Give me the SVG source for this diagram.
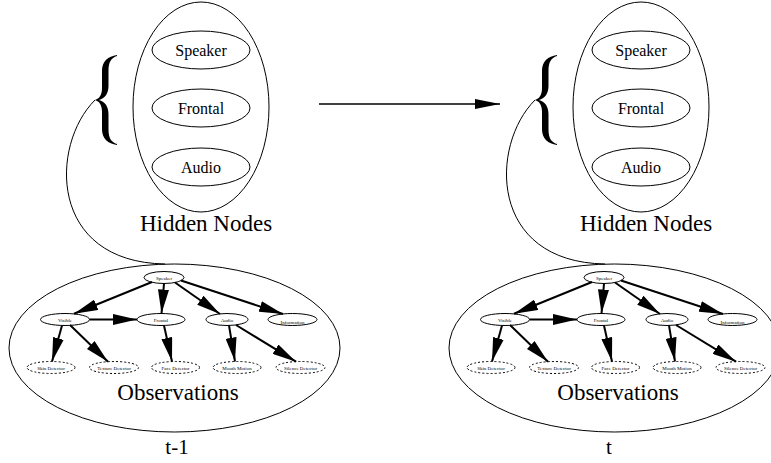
<svg xmlns="http://www.w3.org/2000/svg" width="771" height="463" viewBox="0 0 771 463">
<style>
.bg{fill:#fff}
.big{fill:none;stroke:#000;stroke-width:1}
.hn{fill:#fff;stroke:#000;stroke-width:1}
.on{fill:#fff;stroke:#000;stroke-width:1}
.od{fill:#fff;stroke:#000;stroke-width:1;stroke-dasharray:2,2}
.e{fill:none;stroke:#000;stroke-width:2;marker-end:url(#ah)}
.lk{fill:none;stroke:#000;stroke-width:1}
text{font-family:'Liberation Serif','Times New Roman','DejaVu Serif',serif;text-anchor:middle;fill:#000}
.t16{font-size:16px}
.t23{font-size:23px}
.t21{font-size:21px}
.t5{font-size:5px}
.br{fill:#000;stroke:none}
</style>
<defs>
<marker id="ah" markerUnits="userSpaceOnUse" markerWidth="24" markerHeight="11" refX="24" refY="5.5" orient="auto">
<path d="M0,0 L24,5.5 L0,11 Z" fill="#000"/>
</marker>
<marker id="ah2" markerUnits="userSpaceOnUse" markerWidth="25" markerHeight="10" refX="25" refY="5" orient="auto">
<path d="M0,0 L25,5 L0,10 Z" fill="#000"/>
</marker>
</defs>
<rect class="bg" x="0" y="0" width="771" height="463"/>

<g id="slice-t-1" font-family="Liberation Serif, serif">
  <g id="hidden-t-1">
    <ellipse class="big" cx="201" cy="107" rx="68" ry="105"/>
    <g id="h-speaker-t-1"><ellipse class="hn" cx="201" cy="50" rx="49" ry="19"/><text class="t16" x="201" y="55.5">Speaker</text></g>
    <g id="h-frontal-t-1"><ellipse class="hn" cx="201" cy="108" rx="49" ry="19"/><text class="t16" x="201" y="113.5">Frontal</text></g>
    <g id="h-audio-t-1"><ellipse class="hn" cx="201" cy="167" rx="49" ry="19"/><text class="t16" x="201" y="172.5">Audio</text></g>
    <text class="t23" x="206" y="231">Hidden Nodes</text>
  </g>
  <path class="br" d="M117,55 C108,56.5 102,61 102,71 L102,88 C102,95 99.5,98.5 95,100 C99.5,101.5 102,105 102,112 L102,129 C102,139 108,143.5 117,145 L117,144 C111,142 108.5,138 108.5,129 L108.5,114 C108.5,106 104.5,101.5 99,100 C104.5,98.5 108.5,94 108.5,86 L108.5,71 C108.5,62 111,58 117,56 Z"/>
  <g id="observations-t-1">
    <ellipse class="big" cx="174.5" cy="348" rx="165.5" ry="84"/>
    <g id="o-speaker-t-1"><ellipse class="on" cx="164" cy="277.5" rx="20" ry="6"/><text class="t5" x="164" y="279.5">Speaker</text></g>
    <g id="o-visible-t-1"><ellipse class="on" cx="65" cy="319.5" rx="24.5" ry="6"/><text class="t5" x="65" y="321.5">Visible</text></g>
    <g id="o-frontal-t-1"><ellipse class="on" cx="161" cy="319.5" rx="24" ry="6"/><text class="t5" x="161" y="321.5">Frontal</text></g>
    <g id="o-audio-t-1"><ellipse class="on" cx="227" cy="319.5" rx="21" ry="6"/><text class="t5" x="227" y="321.5">Audio</text></g>
    <g id="o-information-t-1"><ellipse class="on" cx="292.5" cy="319.5" rx="24.5" ry="6"/><text class="t5" x="292.5" y="324">Information</text></g>
    <g id="o-skin-t-1"><ellipse class="od" cx="51" cy="367.5" rx="24" ry="6"/><text class="t5" x="51" y="369.5">Skin Detector</text></g>
    <g id="o-texture-t-1"><ellipse class="od" cx="114" cy="367.5" rx="24.5" ry="6"/><text class="t5" x="114" y="369.5">Texture Detector</text></g>
    <g id="o-face-t-1"><ellipse class="od" cx="175.5" cy="367.5" rx="24" ry="6"/><text class="t5" x="175.5" y="369.5">Face Detector</text></g>
    <g id="o-mouth-t-1"><ellipse class="od" cx="237" cy="367.5" rx="24" ry="6"/><text class="t5" x="237" y="369.5">Mouth Motion</text></g>
    <g id="o-silence-t-1"><ellipse class="od" cx="300.5" cy="367.5" rx="24.5" ry="6"/><text class="t5" x="300.5" y="369.5">Silence Detector</text></g>
    <text class="t23" x="178" y="400">Observations</text>
  </g>
  <g id="edges-t-1">
    <path class="e" d="M152,282 L74,313.8"/>
    <path class="e" d="M164,283.5 L161.5,313.5"/>
    <path class="e" d="M175,282.5 L220,314"/>
    <path class="e" d="M181,280.5 L283,314"/>
    <path class="e" d="M89.5,319.5 L137,319.5"/>
    <path class="e" d="M62,325.5 L52,361.5"/>
    <path class="e" d="M70,325 L108,361.7"/>
    <path class="e" d="M164,325.5 L172,361.5"/>
    <path class="e" d="M229,325.5 L235,361.5"/>
    <path class="e" d="M236,325 L296,361.7"/>
    <path class="lk" d="M95,100 C50,145 48,262 165,264"/>
  </g>
  <text class="t21" x="177" y="454">t-1</text>
</g>

<g id="slice-t" transform="translate(440,0)" font-family="Liberation Serif, serif">
  <g id="hidden-t">
    <ellipse class="big" cx="201" cy="107" rx="68" ry="105"/>
    <g id="h-speaker-t"><ellipse class="hn" cx="201" cy="50" rx="49" ry="19"/><text class="t16" x="201" y="55.5">Speaker</text></g>
    <g id="h-frontal-t"><ellipse class="hn" cx="201" cy="108" rx="49" ry="19"/><text class="t16" x="201" y="113.5">Frontal</text></g>
    <g id="h-audio-t"><ellipse class="hn" cx="201" cy="167" rx="49" ry="19"/><text class="t16" x="201" y="172.5">Audio</text></g>
    <text class="t23" x="206" y="231">Hidden Nodes</text>
  </g>
  <path class="br" d="M117,55 C108,56.5 102,61 102,71 L102,88 C102,95 99.5,98.5 95,100 C99.5,101.5 102,105 102,112 L102,129 C102,139 108,143.5 117,145 L117,144 C111,142 108.5,138 108.5,129 L108.5,114 C108.5,106 104.5,101.5 99,100 C104.5,98.5 108.5,94 108.5,86 L108.5,71 C108.5,62 111,58 117,56 Z"/>
  <g id="observations-t">
    <ellipse class="big" cx="174.5" cy="348" rx="165.5" ry="84"/>
    <g id="o-speaker-t"><ellipse class="on" cx="164" cy="277.5" rx="20" ry="6"/><text class="t5" x="164" y="279.5">Speaker</text></g>
    <g id="o-visible-t"><ellipse class="on" cx="65" cy="319.5" rx="24.5" ry="6"/><text class="t5" x="65" y="321.5">Visible</text></g>
    <g id="o-frontal-t"><ellipse class="on" cx="161" cy="319.5" rx="24" ry="6"/><text class="t5" x="161" y="321.5">Frontal</text></g>
    <g id="o-audio-t"><ellipse class="on" cx="227" cy="319.5" rx="21" ry="6"/><text class="t5" x="227" y="321.5">Audio</text></g>
    <g id="o-information-t"><ellipse class="on" cx="292.5" cy="319.5" rx="24.5" ry="6"/><text class="t5" x="292.5" y="324">Information</text></g>
    <g id="o-skin-t"><ellipse class="od" cx="51" cy="367.5" rx="24" ry="6"/><text class="t5" x="51" y="369.5">Skin Detector</text></g>
    <g id="o-texture-t"><ellipse class="od" cx="114" cy="367.5" rx="24.5" ry="6"/><text class="t5" x="114" y="369.5">Texture Detector</text></g>
    <g id="o-face-t"><ellipse class="od" cx="175.5" cy="367.5" rx="24" ry="6"/><text class="t5" x="175.5" y="369.5">Face Detector</text></g>
    <g id="o-mouth-t"><ellipse class="od" cx="237" cy="367.5" rx="24" ry="6"/><text class="t5" x="237" y="369.5">Mouth Motion</text></g>
    <g id="o-silence-t"><ellipse class="od" cx="300.5" cy="367.5" rx="24.5" ry="6"/><text class="t5" x="300.5" y="369.5">Silence Detector</text></g>
    <text class="t23" x="178" y="400">Observations</text>
  </g>
  <g id="edges-t">
    <path class="e" d="M152,282 L74,313.8"/>
    <path class="e" d="M164,283.5 L161.5,313.5"/>
    <path class="e" d="M175,282.5 L220,314"/>
    <path class="e" d="M181,280.5 L283,314"/>
    <path class="e" d="M89.5,319.5 L137,319.5"/>
    <path class="e" d="M62,325.5 L52,361.5"/>
    <path class="e" d="M70,325 L108,361.7"/>
    <path class="e" d="M164,325.5 L172,361.5"/>
    <path class="e" d="M229,325.5 L235,361.5"/>
    <path class="e" d="M236,325 L296,361.7"/>
    <path class="lk" d="M95,100 C50,145 48,262 165,264"/>
  </g>
  <text class="t21" x="169" y="454">t</text>
</g>

<g id="connectors">
  <path d="M319,104 L500,104" fill="none" stroke="#000" stroke-width="1.5" marker-end="url(#ah2)"/>
</g>
</svg>
